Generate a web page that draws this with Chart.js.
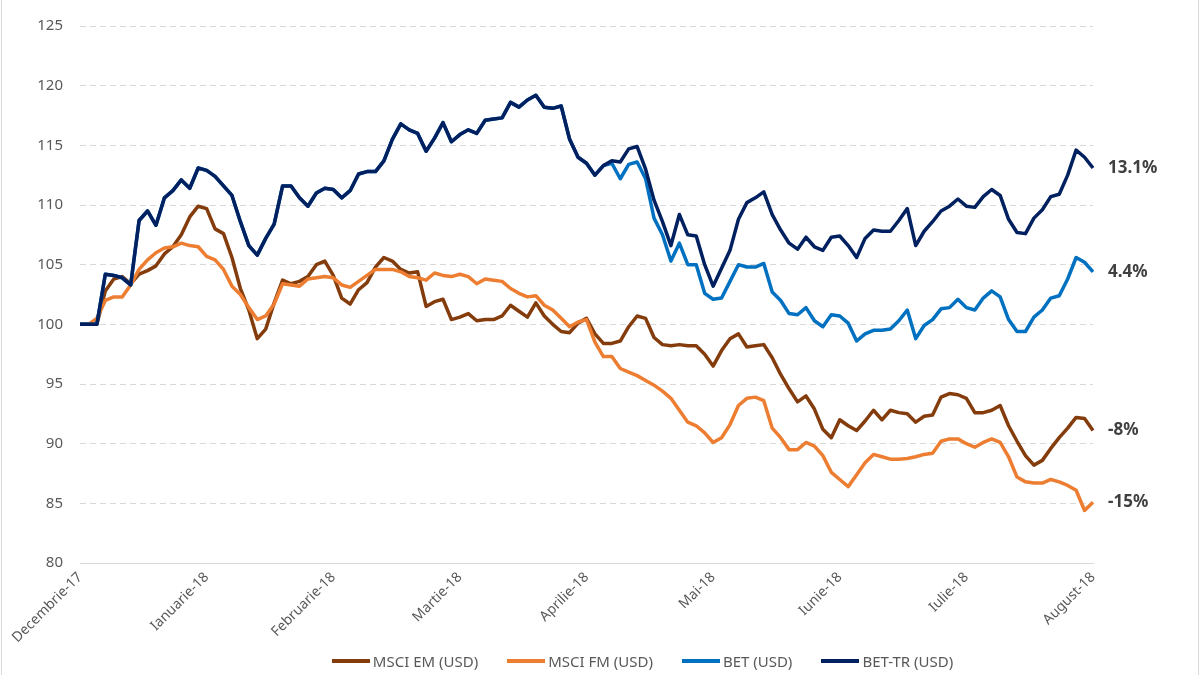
<!DOCTYPE html>
<html><head><meta charset="utf-8">
<script src="https://cdn.jsdelivr.net/npm/chart.js@4"></script>
<style>
html,body{margin:0;padding:0;background:#fff;}
#wrap{position:relative;width:1200px;height:675px;overflow:hidden;background:#fff;}
#frame{position:absolute;left:1px;top:-2px;width:1196px;height:679px;border-left:1px solid #d9d9d9;border-right:1px solid #d9d9d9;pointer-events:none;}
canvas{position:absolute;left:0;top:0;}
#legend{position:absolute;left:85px;right:0;top:650px;display:flex;justify-content:center;gap:29px;font:15px 'Noto Sans';color:#595959;line-height:22px;}
.item{display:flex;align-items:center;}
.swatch{width:38px;height:4px;margin-right:3px;}
</style></head>
<body><div id="wrap"><canvas id="c" width="1200" height="675"></canvas><div id="legend"></div><div id="frame"></div></div>
<script>
const monthLabels = ['Decembrie-17','Ianuarie-18','Februarie-18','Martie-18','Aprilie-18','Mai-18','Iunie-18','Iulie-18','August-18'];
const seriesNames = ['MSCI EM (USD)','MSCI FM (USD)','BET (USD)','BET-TR (USD)'];
const endLabels = ['-8%','-15%','4.4%','13.1%'];
const yTicks = [80,85,90,95,100,105,110,115,120,125];

const msciEM = [100,100,100,102.8,103.8,104.0,103.4,104.2,104.5,104.9,
105.9,106.5,107.5,109.0,109.9,109.7,108.0,107.6,105.6,103.0,
101.2,98.8,99.6,101.8,103.7,103.4,103.6,104.0,105.0,105.3,
104.1,102.2,101.7,102.9,103.5,104.8,105.6,105.3,104.6,104.3,
104.4,101.5,101.9,102.1,100.4,100.6,100.9,100.3,100.4,100.4,
100.7,101.6,101.1,100.6,101.8,100.7,100.0,99.4,99.3,100.1,
100.5,99.2,98.4,98.4,98.6,99.8,100.7,100.5,98.9,98.3,
98.2,98.3,98.2,98.2,97.5,96.5,97.8,98.8,99.2,98.1,
98.2,98.3,97.2,95.8,94.6,93.5,94.0,92.9,91.2,90.5,
92.0,91.5,91.1,91.9,92.8,92.0,92.8,92.6,92.5,91.8,
92.3,92.4,93.9,94.2,94.1,93.8,92.6,92.6,92.8,93.2,
91.5,90.2,89.0,88.2,88.6,89.6,90.5,91.3,92.2,92.1,
91.1];

const msciFM = [100,100,100.5,102.0,102.3,102.3,103.3,104.6,105.4,106.0,
106.4,106.5,106.8,106.6,106.5,105.7,105.4,104.6,103.2,102.5,
101.4,100.4,100.7,101.7,103.4,103.3,103.2,103.8,103.9,104.0,
103.9,103.3,103.1,103.6,104.1,104.6,104.6,104.6,104.4,104.0,
103.9,103.7,104.3,104.1,104.0,104.2,104.0,103.4,103.8,103.7,
103.6,103.0,102.6,102.3,102.4,101.6,101.2,100.5,99.8,100.2,
100.4,98.5,97.3,97.3,96.3,96.0,95.7,95.3,94.9,94.4,
93.8,92.8,91.8,91.5,90.9,90.1,90.5,91.6,93.2,93.8,
93.9,93.6,91.3,90.5,89.5,89.5,90.1,89.8,89.0,87.6,
87.0,86.4,87.4,88.4,89.1,88.9,88.7,88.7,88.75,88.9,
89.1,89.2,90.2,90.4,90.4,90.0,89.7,90.1,90.4,90.1,
88.9,87.2,86.8,86.7,86.7,87.0,86.8,86.5,86.1,84.4,
85.1];

const bet = [100,100,100,104.2,104.1,103.9,103.3,108.7,109.5,108.3,
110.6,111.2,112.1,111.4,113.1,112.9,112.4,111.6,110.8,108.6,
106.6,105.8,107.2,108.4,111.6,111.6,110.6,109.9,111.0,111.4,
111.3,110.6,111.2,112.6,112.8,112.8,113.7,115.5,116.8,116.3,
116.0,114.5,115.6,116.9,115.3,115.9,116.3,116.0,117.1,117.2,
117.3,118.6,118.2,118.8,119.2,118.2,118.1,118.3,115.5,114.0,
113.5,112.5,113.3,113.5,112.2,113.4,113.6,112.2,108.9,107.5,
105.3,106.8,105.0,105.0,102.6,102.1,102.2,103.6,105.0,104.8,
104.8,105.1,102.7,102.0,100.9,100.8,101.4,100.3,99.8,100.8,
100.7,100.1,98.6,99.2,99.5,99.5,99.6,100.3,101.2,98.8,
99.9,100.4,101.3,101.4,102.1,101.4,101.2,102.2,102.8,102.3,
100.4,99.4,99.4,100.6,101.2,102.2,102.4,103.8,105.6,105.2,
104.4];

const betTR = [100,100,100,104.2,104.1,103.9,103.3,108.7,109.5,108.3,
110.6,111.2,112.1,111.4,113.1,112.9,112.4,111.6,110.8,108.6,
106.6,105.8,107.2,108.4,111.6,111.6,110.6,109.9,111.0,111.4,
111.3,110.6,111.2,112.6,112.8,112.8,113.7,115.5,116.8,116.3,
116.0,114.5,115.6,116.9,115.3,115.9,116.3,116.0,117.1,117.2,
117.3,118.6,118.2,118.8,119.2,118.2,118.1,118.3,115.5,114.0,
113.5,112.5,113.3,113.7,113.6,114.7,114.9,113.0,110.4,108.6,
106.6,109.2,107.5,107.4,105.0,103.2,104.7,106.2,108.8,110.2,
110.6,111.1,109.2,107.9,106.8,106.3,107.3,106.5,106.2,107.3,
107.4,106.6,105.6,107.2,107.9,107.8,107.8,108.7,109.7,106.6,
107.8,108.6,109.5,109.9,110.5,109.9,109.8,110.7,111.3,110.8,
108.8,107.7,107.6,108.9,109.6,110.7,110.9,112.5,114.6,114.0,
113.1];

const pointsPerMonth = 15;
const categories = msciEM.map((v, i) => (i % pointsPerMonth === 0 ? monthLabels[i / pointsPerMonth] : ''));
const colors = ['#843C0C', '#ED7D31', '#0070C0', '#002060'];
const seriesData = [msciEM, msciFM, bet, betTR];

const endLabelPlugin = {
  id: 'endLabels',
  afterDatasetsDraw(chart) {
    const ctx = chart.ctx;
    ctx.save();
    ctx.font = 'bold 17px "Noto Sans"';
    ctx.fillStyle = '#404040';
    ctx.textBaseline = 'middle';
    ctx.textAlign = 'left';
    chart.data.datasets.forEach((ds, i) => {
      const meta = chart.getDatasetMeta(i);
      const pt = meta.data[meta.data.length - 1];
      ctx.fillText(endLabels[i], chart.chartArea.right + 15, pt.y);
    });
    ctx.restore();
  }
};

const chart = new Chart(document.getElementById('c'), {
  type: 'line',
  data: {
    labels: categories,
    datasets: seriesData.map((d, i) => ({
      label: seriesNames[i],
      data: d,
      borderColor: colors[i],
      backgroundColor: colors[i],
      borderWidth: 3.5,
      pointRadius: 0,
      tension: 0,
      fill: false,
      borderJoinStyle: 'round',
      order: 4 - i
    }))
  },
  options: {
    responsive: false,
    animation: false,
    layout: { padding: { left: 0, right: 107, top: 23, bottom: 32 } },
    plugins: { legend: { display: false }, tooltip: { enabled: false } },
    scales: {
      x: {
        type: 'category',
        grid: { display: false, drawTicks: false },
        border: { display: true, color: '#d9d9d9', width: 1 },
        ticks: {
          autoSkip: false,
          maxRotation: 45,
          minRotation: 45,
          padding: 6,
          color: '#595959',
          font: { family: 'Noto Sans', size: 14 },
          callback: (v, i) => categories[i]
        },
        afterFit: (s) => { s.height = 80; }
      },
      y: {
        min: 80,
        max: 125,
        afterBuildTicks: (s) => { s.ticks = yTicks.map(v => ({ value: v })); },
        grid: { color: '#d9d9d9', lineWidth: 1, drawTicks: false },
        border: { display: false, dash: [6, 4] },
        ticks: {
          padding: 17,
          color: '#595959',
          font: { family: 'Noto Sans', size: 15 }
        },
        afterFit: (s) => { s.width = 80; }
      }
    }
  },
  plugins: [endLabelPlugin]
});

const legend = document.getElementById('legend');
chart.data.datasets.forEach((ds) => {
  const item = document.createElement('div');
  item.className = 'item';
  const sw = document.createElement('span');
  sw.className = 'swatch';
  sw.style.background = ds.borderColor;
  const tx = document.createElement('span');
  tx.textContent = ds.label;
  item.appendChild(sw);
  item.appendChild(tx);
  legend.appendChild(item);
});
</script>
</body></html>
